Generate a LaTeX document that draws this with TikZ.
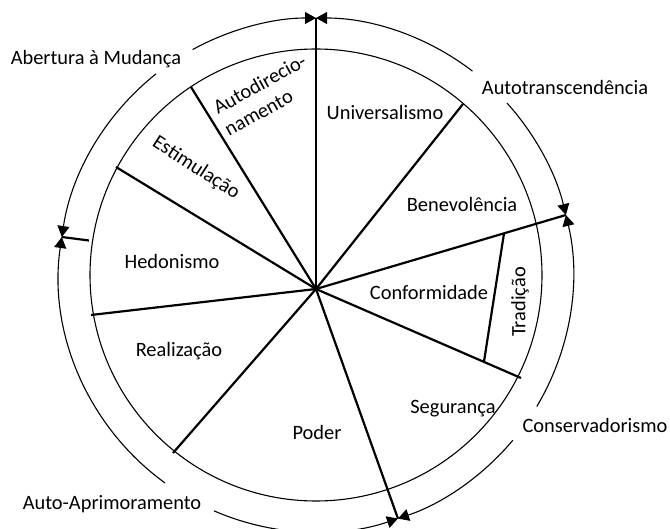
\documentclass[tikz,border=0pt]{standalone}
\usepackage{fontspec}
\setmainfont{Carlito}
\usetikzlibrary{arrows.meta,calc}
\begin{document}
\begin{tikzpicture}[x=1pt,y=1pt,
  spoke/.style={line width=2.2pt},
  rim/.style={line width=1.1pt},
  ring/.style={line width=1.1pt,-{Triangle[length=11pt,width=12pt]}},
  lbl/.style={font=\fontsize{20.4}{26}\selectfont,inner sep=0pt},
]
\useasboundingbox (0,0) rectangle (670,528);
\coordinate (C) at (316,253);
\coordinate (H) at (316,239);
\draw[rim] (C) circle[radius=226];
% outer points
\coordinate (T) at ($(C)+(90:257)$);
\coordinate (R) at ($(C)+(13.5:257)$);
\coordinate (B) at ($(C)+(-71.4:257)$);
\coordinate (L) at ($(C)+(171.5:257)$);
\coordinate (Li) at (89,287.5);
% inner points
\coordinate (p1) at (191,441);
\coordinate (p2) at (116,361);
\coordinate (p3) at (91,213);
\coordinate (p4) at (173,75);
\coordinate (p5) at (521,150);
\coordinate (p6) at (463,424);
\coordinate (t1) at (504,294.5);
\coordinate (t2) at (484,166.5);
% spokes
\draw[spoke] (H) -- (T);
\draw[spoke] (H) -- (p1);
\draw[spoke] (H) -- (p2);
\draw[spoke] (Li) -- (L);
\draw[spoke] (H) -- (p3);
\draw[spoke] (H) -- (p4);
\draw[spoke] (H) -- (B);
\draw[spoke] (H) -- (p5);
\draw[spoke] (H) -- (R);
\draw[spoke] (H) -- (p6);
\draw[spoke] (t1) -- (t2);
% outer arcs
\draw[ring] ($(C)+(118.7:257)$) arc[start angle=118.7,end angle=90,radius=257];
\draw[ring] ($(C)+(128.5:257)$) arc[start angle=128.5,end angle=171.5,radius=257];
\draw[ring] ($(C)+(52.5:257)$) arc[start angle=52.5,end angle=90,radius=257];
\draw[ring] ($(C)+(42:257)$) arc[start angle=42,end angle=13.5,radius=257];
\draw[ring] ($(C)+(-30.8:257)$) arc[start angle=-30.8,end angle=13.5,radius=257];
\draw[ring] ($(C)+(-40:257)$) arc[start angle=-40,end angle=-71.4,radius=257];
\draw[ring] ($(C)+(-113.4:257)$) arc[start angle=-113.4,end angle=-71.4,radius=257];
\draw[ring] ($(C)+(-126:257)$) arc[start angle=-126,end angle=-188.5,radius=257];
% inner labels
\node[lbl,anchor=base] (univ) at (385,408.5) {Universalismo};
\node[lbl,anchor=base] (bene) at (462,316.5) {Benevolência};
\node[lbl,anchor=base] (conf) at (429,228.5) {Conformidade};
\node[lbl,rotate=90] (trad) at (520,226) {Tradição};
\node[lbl,anchor=base] (segu) at (453,114.5) {Segurança};
\node[lbl,anchor=base] (pode) at (317,88.5) {Poder};
\node[lbl,anchor=base] (real) at (179,171.5) {Realização};
\node[lbl,anchor=base] (hedo) at (172,259) {Hedonismo};
\node[lbl,rotate=-33] (esti) at (196,360) {Estimulação};
\node[lbl,rotate=29,anchor=base west] (auto1) at (218,413) {Autodirecio-};
\node[lbl,rotate=29,anchor=base west] (auto2) at (229,391) {namento};
% outer labels
\node[lbl,anchor=base] (aber) at (96,463) {Abertura à Mudança};
\node[lbl,anchor=base] (tran) at (565,433) {Autotranscendência};
\node[lbl,anchor=base] (cons) at (595,95) {Conservadorismo};
\node[lbl,anchor=base] (apri) at (112,18) {Auto-Aprimoramento};
\end{tikzpicture}
\end{document}
